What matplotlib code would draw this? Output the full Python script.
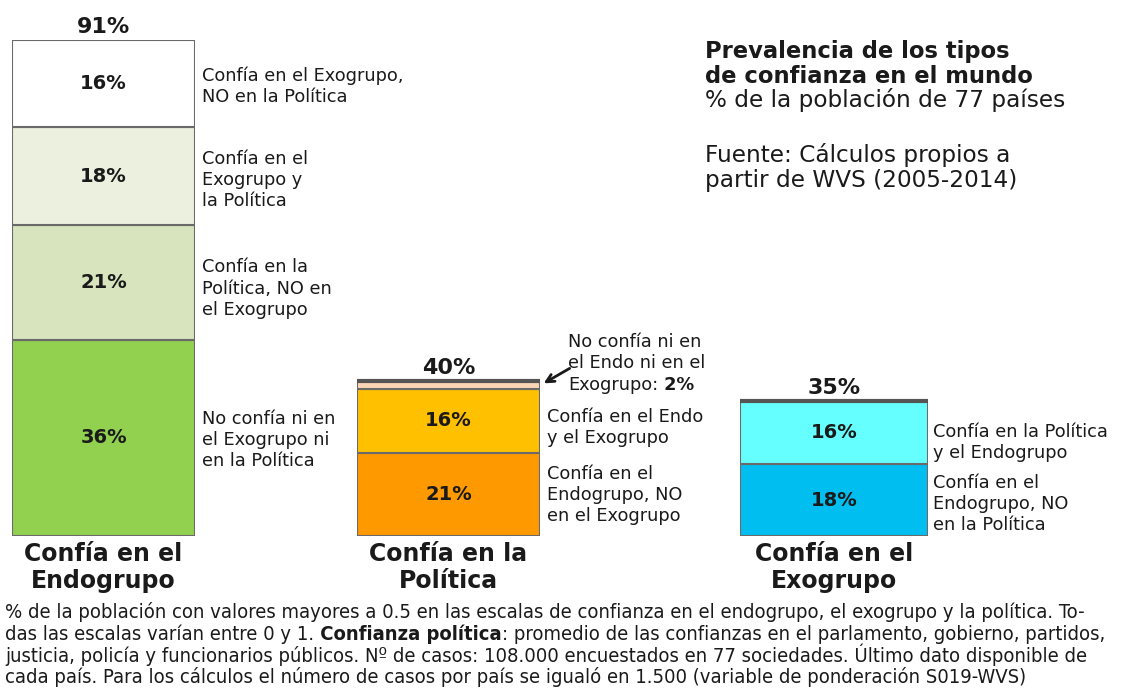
import matplotlib
matplotlib.use("Agg")
import matplotlib.pyplot as plt

plt.rcParams['font.family'] = ['DejaVu Sans']

# ---------------- data ----------------
groups = ["Confía en el\nEndogrupo", "Confía en la\nPolítica", "Confía en el\nExogrupo"]
totals = [91, 40, 35]

endo_values = [36, 21, 18, 16]
endo_labels = ["No confía ni en\nel Exogrupo ni\nen la Política",
               "Confía en la\nPolítica, NO en\nel Exogrupo",
               "Confía en el\nExogrupo y\nla Política",
               "Confía en el Exogrupo,\nNO en la Política"]

pol_values = [21, 16, 2]
pol_labels = ["Confía en el\nEndogrupo, NO\nen el Exogrupo",
              "Confía en el Endo\ny el Exogrupo",
              "No confía ni en\nel Endo ni en el\nExogrupo:"]

exo_values = [18, 16]
exo_labels = ["Confía en el\nEndogrupo, NO\nen la Política",
              "Confía en la Política\ny el Endogrupo"]

title_bold = ["Prevalencia de los tipos", "de confianza en el mundo"]
title_normal = ["% de la población de 77 países", "", "Fuente: Cálculos propios a",
                "partir de WVS (2005-2014)"]

foot_lines = [
    "% de la población con valores mayores a 0.5 en las escalas de confianza en el endogrupo, el exogrupo y la política. To-",
    ["das las escalas varían entre 0 y 1.", " Confianza política",
     ": promedio de las confianzas en el parlamento, gobierno, partidos,"],
    "justicia, policía y funcionarios públicos. Nº de casos: 108.000 encuestados en 77 sociedades. Último dato disponible de",
    "cada país. Para los cálculos el número de casos por país se igualó en 1.500 (variable de ponderación S019-WVS)",
]

# ---------------- styles ----------------
endo_colors = ["#92D050", "#D7E4BD", "#EBF1DE", "#FFFFFF"]
pol_colors = ["#FF9900", "#FFC000", "#FCD5B5"]
exo_colors = ["#00BFF0", "#66FFFF"]
EDGE = "#6a6a6a"
TXT = "#1a1a1a"

W, H = 1122, 688
fig = plt.figure(figsize=(W / 100, H / 100), dpi=100)


def px_axes(x0, y_top, x1, y_bottom):
    return fig.add_axes([x0 / W, 1 - y_bottom / H, (x1 - x0) / W, (y_bottom - y_top) / H])


# overlay axes in pixel coords for free text
ax_o = fig.add_axes([0, 0, 1, 1])
ax_o.set_xlim(0, W)
ax_o.set_ylim(H, 0)
ax_o.axis('off')

ax1 = px_axes(12, 40, 195, 536)     # ylim 0..91
ax2 = px_axes(357, 377, 540, 536)   # ylim 0..40
ax3 = px_axes(740, 377, 928, 536)   # ylim 0..40
ax1.set_ylim(0, 91)
ax2.set_ylim(0, 40)
ax3.set_ylim(0, 40)

SIDE_FS = 12.8
INSIDE_FS = 14
SIDE_LS = 1.22


def draw_stack(ax, values, colors, labels, label_dx, label_dy, skip_last_label=False):
    bottom = 0
    n = len(values)
    for i, (v, c, lab) in enumerate(zip(values, colors, labels)):
        ax.bar(0, v, bottom=bottom, width=1.0, color=c, edgecolor=EDGE,
               linewidth=1.5, zorder=2)
        mid = bottom + v / 2
        if not (skip_last_label and i == n - 1):
            ax.text(0, mid, f"{v}%", ha='center', va='center', fontsize=INSIDE_FS,
                    fontweight='bold', color=TXT, zorder=3)
            ax.annotate(lab, xy=(0.5, mid), xycoords='data', xytext=(label_dx, label_dy[i]),
                        textcoords='offset pixels', ha='left', va='center',
                        fontsize=SIDE_FS, color=TXT, linespacing=SIDE_LS,
                        annotation_clip=False)
        bottom += v
    ax.set_xlim(-0.5, 0.5)
    ax.axis('off')
    return bottom


top1 = draw_stack(ax1, endo_values, endo_colors, endo_labels, 7, [-2, -6, -4, -3])
top2 = draw_stack(ax2, pol_values, pol_colors, pol_labels, 7, [-1, -7, 0],
                  skip_last_label=True)
top3 = draw_stack(ax3, exo_values, exo_colors, exo_labels, 5, [-4, -10])

# dark top lines on bars 2 and 3
for ax, top in [(ax2, top2), (ax3, top3)]:
    ax.plot([-0.5, 0.5], [top, top], color="#555555", lw=3, zorder=4,
            solid_capstyle='butt', clip_on=False)

# totals above bars
for ax, top, tot in [(ax1, top1, totals[0]), (ax2, top2, totals[1]), (ax3, top3, totals[2])]:
    ax.annotate(f"{tot}%", xy=(0, top), xytext=(0, 3), textcoords='offset pixels',
                ha='center', va='bottom', fontsize=16, fontweight='bold', color=TXT,
                annotation_clip=False)

# group labels below bars
for ax, g in zip([ax1, ax2, ax3], groups):
    ax.annotate(g, xy=(0.5, 0), xycoords='axes fraction', xytext=(0, -6),
                textcoords='offset pixels', ha='center', va='top', fontsize=17,
                fontweight='bold', color=TXT, linespacing=1.17, annotation_clip=False)

# 2% label with arrow
pl = pol_labels[-1].split("\n")
ax2.annotate("", xy=(0.52, top2 - 0.6), xycoords='data', xytext=(26, 15),
             textcoords='offset pixels',
             arrowprops=dict(arrowstyle='->', lw=2, color=TXT, shrinkA=0, shrinkB=0,
                             mutation_scale=14),
             annotation_clip=False)
base_y = 347
for i, line in enumerate(pl):
    t = ax_o.text(568, base_y + i * 21.5, line, ha='left', va='baseline',
                  fontsize=SIDE_FS, color=TXT)
ax_o.annotate(f" {pol_values[-1]}%", xy=(1, 0), xycoords=t, ha='left', va='bottom',
              fontsize=SIDE_FS, fontweight='bold', color=TXT)

# title block
ys = [58, 83]
for y, s in zip(ys, title_bold):
    ax_o.text(705, y, s, ha='left', va='baseline', fontsize=16.3, fontweight='bold',
              color=TXT)
ys2 = [107, 132, 162, 187]
for y, s in zip(ys2, title_normal):
    if s:
        ax_o.text(705, y, s, ha='left', va='baseline', fontsize=16.7, color=TXT)

# footnote
FOOT_FS = 12
foot_kw = dict(color=TXT, fontstretch='condensed')
fys = [618, 640, 662, 683]
foot_texts = []
line_groups = []
for y, line in zip(fys, foot_lines):
    if isinstance(line, list):
        t0 = ax_o.text(5, y, line[0], ha='left', va='baseline', fontsize=FOOT_FS, **foot_kw)
        t1 = ax_o.annotate(line[1], xy=(1, 0), xycoords=t0, ha='left', va='bottom',
                           fontsize=FOOT_FS, fontweight='bold', **foot_kw)
        t2 = ax_o.annotate(line[2], xy=(1, 0), xycoords=t1, ha='left', va='bottom',
                           fontsize=FOOT_FS, **foot_kw)
        foot_texts += [t0, t1, t2]
        line_groups.append((t0, t2))
    else:
        t = ax_o.text(5, y, line, ha='left', va='baseline', fontsize=FOOT_FS, **foot_kw)
        foot_texts.append(t)
        line_groups.append((t, t))

# fit footnote width: widest line spans ~5..1110 px
fig.canvas.draw()
r = fig.canvas.get_renderer()
widths = [b.get_window_extent(r).x1 - a.get_window_extent(r).x0 for a, b in line_groups]
scale = 1105 / max(widths)
for t in foot_texts:
    t.set_fontsize(FOOT_FS * scale)

fig.savefig("out.png", dpi=100)
